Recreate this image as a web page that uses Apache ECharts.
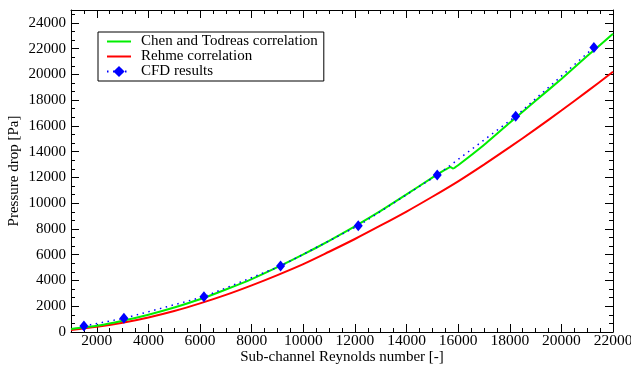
<!DOCTYPE html>
<html>
<head>
<meta charset="utf-8">
<script src="https://cdn.jsdelivr.net/npm/echarts@6/dist/echarts.min.js"></script>
<style>
  html, body { margin: 0; padding: 0; background: #fff; }
  #chart { width: 631px; height: 365px; }
</style>
</head>
<body>
<div id="chart"></div>
<script>
  // Rehme correlation
  const rehmeRe = [1000, 2000, 3000, 4000, 5000, 6000, 7000, 8000, 9000, 10000, 11000,
    12000, 13000, 14000, 15000, 16000, 17000, 18000, 19000, 20000, 21000, 22000];
  const rehmeDp = [150, 400, 720, 1130, 1630, 2220, 2880, 3620, 4420, 5270, 6230,
    7220, 8270, 9350, 10500, 11700, 13000, 14350, 15750, 17200, 18680, 20200];

  // Chen and Todreas correlation (small jump at the transition)
  const chenRe = [1000, 2000, 3000, 4000, 5000, 6000, 7000, 8000, 9000, 10000, 11000,
    12000, 13000, 14000, 15000, 15500, 15700, 15800, 16000, 17000, 18000, 19000,
    20000, 21000, 22000];
  const chenDp = [230, 480, 870, 1340, 1900, 2540, 3300, 4110, 5040, 6020, 7070,
    8200, 9410, 10680, 11990, 12600, 12820, 12690, 12950, 14520, 16250, 17950,
    19650, 21420, 23150];

  // CFD results
  const cfdRe = [1500, 3050, 6150, 9120, 12130, 15190, 18230, 21260];
  const cfdDp = [465, 1060, 2740, 5120, 8250, 12180, 16750, 22090];

  const xLabels = [2000, 4000, 6000, 8000, 10000, 12000, 14000, 16000, 18000, 20000, 22000];
  const yLabels = [0, 2000, 4000, 6000, 8000, 10000, 12000, 14000, 16000, 18000, 20000, 22000, 24000];

  const font = 'Liberation Serif';
  const frame = '#000';
  // plain line used as legend icon (box 24x14, bar in the middle)
  const lineIcon = 'path://M0,0M0,6L24,6L24,8L0,8ZM24,14';

  const pairs = (xs, ys) => xs.map((x, i) => [x, ys[i]]);

  function xAxis(position, major, withLabels) {
    return {
      type: 'value',
      position,
      min: 1000,
      max: 22000,
      interval: major ? undefined : 500,
      splitLine: { show: false },
      axisLine: { show: major, onZero: false, lineStyle: { color: frame, width: 1 } },
      axisTick: major
        ? { show: true, inside: true, length: 8, customValues: xLabels, lineStyle: { color: frame } }
        : { show: true, inside: true, length: 4, lineStyle: { color: frame } },
      axisLabel: withLabels
        ? {
            show: true, customValues: xLabels, margin: 1, color: '#000',
            fontFamily: font, fontSize: 15.5, formatter: (v) => String(v),
          }
        : { show: false },
      name: withLabels ? 'Sub-channel Reynolds number [-]' : '',
      nameLocation: 'middle',
      nameGap: 18,
      nameMoveOverlap: false,
      nameTextStyle: { color: '#000', fontFamily: font, fontSize: 15 },
    };
  }

  function yAxis(position, major, withLabels) {
    return {
      type: 'value',
      position,
      min: 0,
      max: 25000,
      interval: major ? undefined : 2000 / 3,
      splitLine: { show: false },
      axisLine: { show: major, onZero: false, lineStyle: { color: frame, width: 1 } },
      axisTick: major
        ? { show: true, inside: true, length: 8, customValues: yLabels, lineStyle: { color: frame } }
        : { show: true, inside: true, length: 4, lineStyle: { color: frame } },
      axisLabel: withLabels
        ? {
            show: true, customValues: yLabels, margin: 5, color: '#000',
            fontFamily: font, fontSize: 15, formatter: (v) => String(v),
          }
        : { show: false },
      name: withLabels ? 'Pressure drop [Pa]' : '',
      nameLocation: 'middle',
      nameGap: 49,
      nameMoveOverlap: false,
      nameTextStyle: { color: '#000', fontFamily: font, fontSize: 15 },
    };
  }

  const chart = echarts.init(document.getElementById('chart'));
  chart.setOption({
    animation: false,
    backgroundColor: '#fff',
    grid: { left: 71, right: 18, top: 10, bottom: 33, containLabel: false, outerBoundsMode: 'none' },
    legend: {
      orient: 'vertical',
      left: 98,
      top: 32,
      padding: [2, 6, 2, 8],
      itemGap: 0,
      itemWidth: 24,
      itemHeight: 14,
      borderColor: '#000',
      borderWidth: 1,
      backgroundColor: '#fff',
      textStyle: { color: '#000', fontFamily: font, fontSize: 15, lineHeight: 14, padding: [0, 0, 0, 5] },
      data: [
        { name: 'Chen and Todreas correlation', icon: lineIcon },
        { name: 'Rehme correlation', icon: lineIcon },
        { name: 'CFD results' },
      ],
    },
    xAxis: [
      xAxis('bottom', true, true),
      xAxis('bottom', false, false),
      xAxis('top', true, false),
      xAxis('top', false, false),
    ],
    yAxis: [
      yAxis('left', true, true),
      yAxis('left', false, false),
      yAxis('right', true, false),
      yAxis('right', false, false),
    ],
    series: [
      {
        name: 'Chen and Todreas correlation',
        type: 'line',
        data: pairs(chenRe, chenDp),
        symbol: 'none',
        smooth: 0.15,
        lineStyle: { color: '#00ee00', width: 2 },
        itemStyle: { color: '#00ee00' },
        z: 3,
      },
      {
        name: 'Rehme correlation',
        type: 'line',
        data: pairs(rehmeRe, rehmeDp),
        symbol: 'none',
        smooth: 0.3,
        lineStyle: { color: '#ff0000', width: 2 },
        itemStyle: { color: '#ff0000' },
        z: 2,
      },
      {
        name: 'CFD results',
        type: 'line',
        data: pairs(cfdRe, cfdDp),
        symbol: 'diamond',
        symbolSize: [9, 11],
        lineStyle: { color: '#0000ff', width: 1.5, type: [1.5, 4.5] },
        itemStyle: { color: '#0000ff' },
        z: 4,
      },
    ],
  });
</script>
</body>
</html>
